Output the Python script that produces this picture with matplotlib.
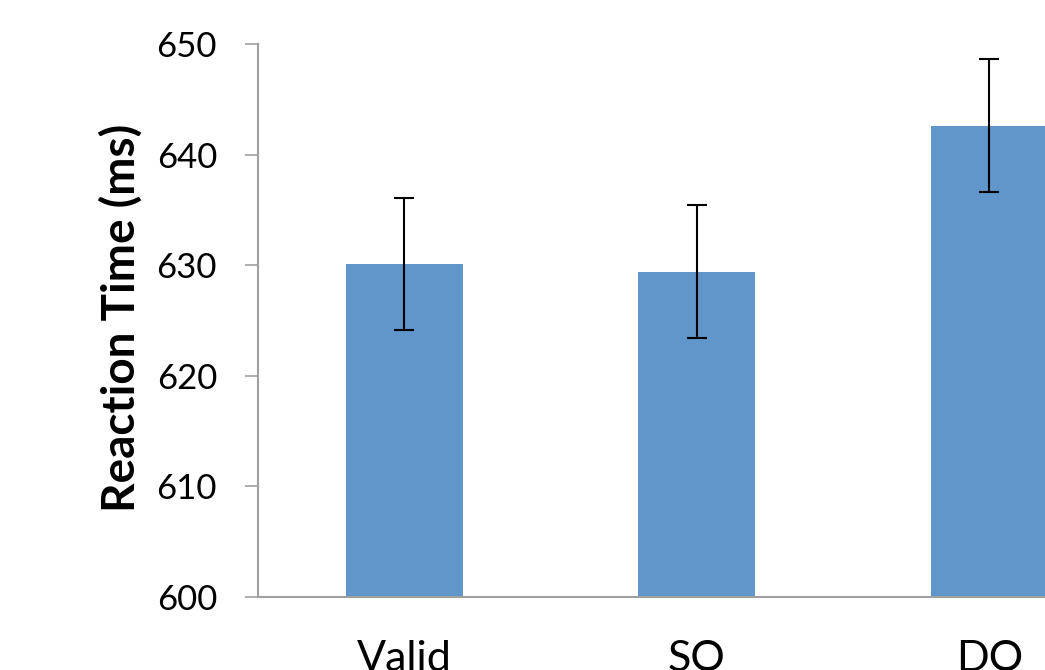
import numpy as np
import matplotlib.pyplot as plt

conditions = ["Valid", "SO", "DO"]
rt_means = [630.1, 629.4, 642.6]
rt_errors = [6.0, 6.0, 6.0]
y_ticks = [600, 610, 620, 630, 640, 650]

plt.rcParams['font.family'] = ['Lato', 'DejaVu Sans']

fig = plt.figure(figsize=(10.45, 6.7), dpi=100)
# axes runs off the right edge of the figure, like the cropped original
ax = fig.add_axes([0.2469, 0.109, 0.8397, 0.8254])

x = np.arange(len(conditions))
ax.bar(x, rt_means, width=0.4, color="#6096c9", zorder=2)
ax.errorbar(x, rt_means, yerr=rt_errors, fmt="none", ecolor="black",
            elinewidth=1.5, capsize=7, capthick=1.5, zorder=3)

ax.set_xlim(-0.5, 2.5)
ax.set_ylim(600, 650)
ax.set_yticks(y_ticks)
ax.set_xticks(x)
ax.set_xticklabels(conditions)

for side in ["top", "right"]:
    ax.spines[side].set_visible(False)
for side in ["left", "bottom"]:
    ax.spines[side].set_color("#a0a0a0")
    ax.spines[side].set_linewidth(1.5)

ax.tick_params(axis="y", length=9.5, width=1.2, color="#a0a0a0",
               labelsize=25, pad=20)
ax.tick_params(axis="x", length=0, labelsize=31, pad=31)

# y label placed by hand so it sits where the original has it
fig.text(121 / 1045, 0.525, "Reaction Time (ms)", rotation=90,
         ha="center", va="center", fontsize=33, fontweight="bold")

fig.savefig("out.png", dpi=100)
